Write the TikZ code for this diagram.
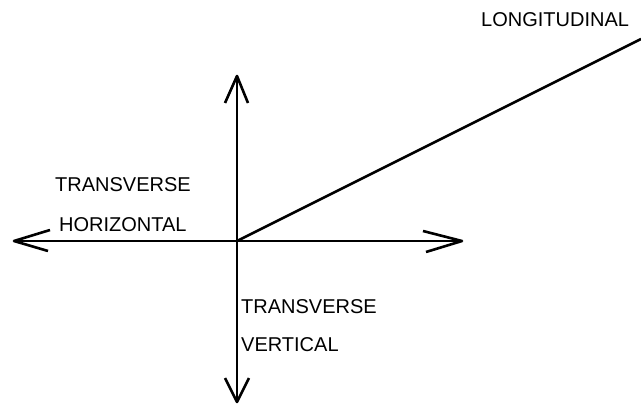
\documentclass[tikz,border=0pt]{standalone}
\usepackage{fontspec}
\setmainfont{Liberation Sans}
\begin{document}
\begin{tikzpicture}[x=1pt,y=-1pt,
  axis/.style={line width=2.6pt, line join=round, line cap=butt},
  lbl/.style={anchor=base west, inner sep=0pt, font=\fontsize{20}{22}\selectfont}]
\useasboundingbox (0,0) rectangle (641,404);
\coordinate (O) at (237,241);
\coordinate (T) at (237,76);
\coordinate (B) at (237,402);
\coordinate (L) at (14,241);
\coordinate (R) at (462,241);
\coordinate (E) at (641,39);
% axes
\draw[axis] (T) -- (B);
\draw[axis] (L) -- (R);
\draw[axis] (O) -- (E);
% arrowheads
\draw[axis] ([shift={(-12,27)}]T) -- (T) -- ([shift={(11,27)}]T);
\draw[axis] ([shift={(-12,-24)}]B) -- (B) -- ([shift={(12,-24)}]B);
\draw[axis] ([shift={(36,-11)}]L) -- (L) -- ([shift={(34,10)}]L);
\draw[axis] ([shift={(-39,-10)}]R) -- (R) -- ([shift={(-36,11)}]R);
% labels
\node[lbl] (lon) at (481,27) {LONGITUDINAL};
\node[lbl] (th) at (55,191) {TRANSVERSE};
\node[lbl] (hz) at (59,231) {HORIZONTAL};
\node[lbl] (tv) at (241,313) {TRANSVERSE};
\node[lbl] (vt) at (241,351) {VERTICAL};
\end{tikzpicture}
\end{document}
